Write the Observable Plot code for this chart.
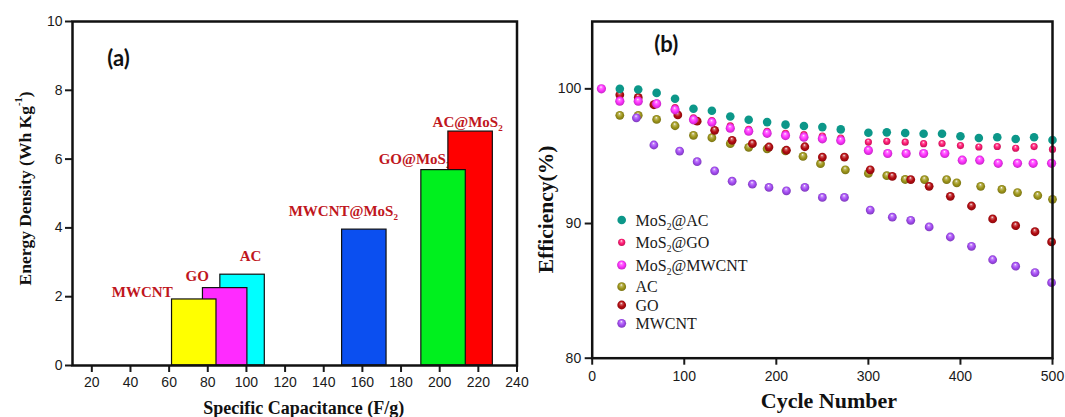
<!DOCTYPE html>
<html><head><meta charset="utf-8">
<script src="https://cdn.jsdelivr.net/npm/d3@7"></script>
<script src="https://cdn.jsdelivr.net/npm/@observablehq/plot@0.6"></script>
<style>
body{margin:0;background:#fff;}
#wrap{display:flex;width:1065px;height:417px;background:#fff;}
#wrap svg{display:block;}
</style></head><body><div id="wrap"></div>
<script>
// ---------- Panel (a) data ----------
const materials = ["MWCNT", "GO", "AC", "MWCNT@MoS₂", "GO@MoS₂", "AC@MoS₂"];
const capacitance = [73, 89, 98, 161, 202, 216];          // F/g (bar centres)
const energyDensity = [1.92, 2.25, 2.64, 3.95, 5.68, 6.80]; // Wh/kg
const capTicks = [20, 40, 60, 80, 100, 120, 140, 160, 180, 200, 220, 240];
const energyTicks = [0, 2, 4, 6, 8, 10];

// ---------- Panel (b) data ----------
const seriesNames = ["MoS₂@AC", "MoS₂@GO", "MoS₂@MWCNT", "AC", "GO", "MWCNT"];
const cycMoS2AC = [30,50,70,90,110,130,150,170,190,210,230,250,270,300,320,340,360,380,400,420,440,460,480,500];
const effMoS2AC = [100.0,99.95,99.70,99.26,98.52,98.37,97.95,97.71,97.53,97.34,97.24,97.16,96.99,96.74,96.77,96.72,96.66,96.66,96.48,96.35,96.40,96.28,96.40,96.20];
const cycMoS2GO = [30,50,70,90,110,130,150,170,190,210,230,250,270,300,320,340,360,380,400,420,440,460,480,500];
const effMoS2GO = [99.2,99.2,98.95,98.6,97.85,97.65,97.25,97.0,96.85,96.7,96.6,96.5,96.35,96.05,96.10,96.04,95.93,95.94,95.79,95.68,95.72,95.59,95.71,95.50];
const cycMoS2MWCNT = [10,30,50,70,90,110,130,150,170,190,210,230,250,270,300,321,341,360,383,402,421,441,462,479,499];
const effMoS2MWCNT = [100,99.08,99.08,98.89,98.44,97.70,97.52,97.08,96.85,96.70,96.53,96.41,96.29,96.16,95.43,95.20,95.20,95.20,95.20,94.70,94.70,94.47,94.47,94.47,94.47];
const cycAC = [30,50,70,90,110,130,150,170,190,210,229,248,275,300,320,340,361,385,396,422,445,462,484,500];
const effAC = [98.03,98.03,97.73,97.26,96.55,96.37,95.93,95.66,95.55,95.39,94.98,94.44,93.99,93.72,93.55,93.27,93.26,93.26,93.02,92.76,92.53,92.30,92.08,91.8];
const cycGO = [30,50,67,93,114,133,152,174,192,211,231,250,274,302,326,346,366,389,412,435,460,481,499];
const effGO = [99.56,99.36,98.82,98.06,97.6,96.92,96.18,95.93,95.68,95.44,95.70,94.93,94.93,93.99,93.50,93.26,92.76,92.02,91.30,90.34,89.84,89.39,88.63];
const cycMWCNT = [48,67,95,114,133,152,174,192,211,231,250,274,302,326,346,366,389,412,435,460,481,499];
const effMWCNT = [97.85,95.83,95.38,94.59,93.91,93.14,92.92,92.68,92.43,92.68,91.94,91.94,91.0,90.47,90.24,89.75,89.0,88.31,87.31,86.83,86.36,85.61];
const cycleTicks = [0, 100, 200, 300, 400, 500];
const effTicks = [80, 90, 100];

// ---------- styles ----------
const barColors = ["#ffff00", "#ff2bff", "#00ffff", "#0b4ff0", "#00f01e", "#ff0000"];
const barHalfWidth = 11.5;
const barDrawOrder = [2, 1, 0, 3, 5, 4];
const labelOffsets = [[-52, -7], [-28, -12], [8, -18], [-21, -18], [-29, -11], [-3, -9]];
const labelColor = "#c0161d";
const seriesColors = ["#0c9789", "#ff1a73", "#ff33ff", "#a0981c", "#b50d12", "#a64df5"];
const seriesRadius = [4.3, 3.6, 4.6, 4.4, 4.4, 4.4];
const seriesShaded = [false, true, true, true, true, true];
const drawOrder = [3, 4, 5, 1, 2, 0];

const serif = "Liberation Serif";
const sans = "Liberation Sans";

// ---------- Panel (a) ----------
const bars = materials.map((m, i) => ({name: m, cap: capacitance[i], e: energyDensity[i], color: barColors[i], i}));
const barsOrdered = barDrawOrder.map(i => bars[i]);

const plotA = Plot.plot({
  width: 530, height: 417,
  marginLeft: 72, marginRight: 13.5, marginTop: 21, marginBottom: 52,
  style: {fontFamily: sans, fontSize: "14px", color: "#1a1a1a", background: "#fff", overflow: "visible"},
  x: {domain: [10, 240]},
  y: {domain: [0, 10]},
  marks: [
    Plot.axisX({ticks: capTicks, tickSize: 7, tickPadding: 5, strokeWidth: 2, label: null, tickFormat: d => d}),
    Plot.axisY({ticks: energyTicks, tickSize: 7, tickPadding: 3, strokeWidth: 2, label: null, tickFormat: d => d}),
    ...bars.map((b, i) => Plot.text([b], {
      x: "cap", y: "e", text: "name", dx: labelOffsets[i][0], dy: labelOffsets[i][1],
      fill: labelColor, fontFamily: serif, fontWeight: "bold", fontSize: 15, textAnchor: "middle"
    })),
    Plot.rect(barsOrdered, {
      x1: d => d.cap - barHalfWidth, x2: d => d.cap + barHalfWidth,
      y1: 0, y2: "e", fill: "color", stroke: "#111", strokeWidth: 1.2
    }),
    Plot.frame({stroke: "#111", strokeWidth: 2.5}),
    Plot.text(["Specific Capacitance (F/g)"], {frameAnchor: "bottom", dx: 9, dy: 43, fontFamily: serif, fontWeight: "bold", fontSize: 18, fill: "#111", lineAnchor: "middle"}),
    Plot.text(["Energy Density (Wh Kg⁻¹)"], {frameAnchor: "left", dx: -47, dy: -5, rotate: -90, fontFamily: serif, fontWeight: "bold", fontSize: 17.5, fill: "#111", textAnchor: "middle", lineAnchor: "middle"}),
    Plot.text(["(a)"], {frameAnchor: "top-left", dx: 46, dy: 37, fontFamily: "Lato", fontWeight: "bold", fontSize: 22, fill: "#111", textAnchor: "middle", lineAnchor: "middle"})
  ]
});

// ---------- Panel (b) ----------
const cycles = [cycMoS2AC, cycMoS2GO, cycMoS2MWCNT, cycAC, cycGO, cycMWCNT];
const effs = [effMoS2AC, effMoS2GO, effMoS2MWCNT, effAC, effGO, effMWCNT];
const ids = ["ball0", "ball1", "ball2", "ball3", "ball4", "ball5"];
const fills = seriesColors.map((c, i) => seriesShaded[i] ? `url(#${ids[i]})` : c);

const plotB = Plot.plot({
  width: 535, height: 417,
  marginLeft: 61.7, marginRight: 13, marginTop: 21, marginBottom: 59.3,
  style: {fontFamily: sans, fontSize: "14px", color: "#1a1a1a", background: "#fff", overflow: "visible"},
  x: {domain: [0, 500]},
  y: {domain: [80, 105]},
  marks: [
    Plot.axisX({ticks: cycleTicks, tickSize: 7, tickPadding: 6, strokeWidth: 2, label: null, tickFormat: d => d}),
    Plot.axisY({ticks: effTicks, tickSize: 7, tickPadding: 4, strokeWidth: 2, label: null, tickFormat: d => d}),
    ...drawOrder.map(s => Plot.dot(cycles[s].map((c, k) => ({c, e: effs[s][k]})), {
      x: "c", y: "e", r: seriesRadius[s], fill: fills[s], stroke: "none"
    })),
    Plot.frame({stroke: "#111", strokeWidth: 2.5}),
    Plot.text(["Cycle Number"], {frameAnchor: "bottom", dx: 6.6, dy: 43, fontFamily: serif, fontWeight: "bold", fontSize: 22, fill: "#111", lineAnchor: "middle"}),
    Plot.text(["Efficiency(%)"], {frameAnchor: "left", dx: -46, dy: 19.6, rotate: -90, fontFamily: serif, fontWeight: "bold", fontSize: 21.5, fill: "#111", textAnchor: "middle", lineAnchor: "middle"}),
    Plot.text(["(b)"], {frameAnchor: "top-left", dx: 74, dy: 23, fontFamily: "Lato", fontWeight: "bold", fontSize: 22, fill: "#111", textAnchor: "middle", lineAnchor: "middle"})
  ]
});

// gradients for shaded balls
const svgB = d3.select(plotB);
const defs = svgB.insert("defs", ":first-child");
seriesColors.forEach((c, i) => {
  const base = d3.color(c);
  const g = defs.append("radialGradient").attr("id", ids[i])
    .attr("cx", "50%").attr("cy", "50%").attr("r", "55%").attr("fx", "45%").attr("fy", "28%");
  g.append("stop").attr("offset", "0%").attr("stop-color", "#ffffff");
  g.append("stop").attr("offset", "22%").attr("stop-color", d3.interpolateRgb(c, "#fff")(0.35));
  g.append("stop").attr("offset", "55%").attr("stop-color", c);
  g.append("stop").attr("offset", "100%").attr("stop-color", base.darker(0.9).formatHex());
});

// legend
const legendX = 91.7, legendTextX = 105.5;
const legendRows = [220, 242.3, 265, 286.7, 305, 323.3];
const lg = svgB.append("g").attr("font-family", serif).attr("font-size", 16)
  .attr("fill", "#1a1a1a").attr("text-anchor", "start");
seriesNames.forEach((name, i) => {
  lg.append("circle").attr("cx", legendX).attr("cy", legendRows[i]).attr("r", seriesRadius[i]).attr("fill", fills[i]);
  lg.append("text").attr("x", legendTextX).attr("y", legendRows[i]).attr("dy", "0.35em")
    .attr("text-anchor", "start").text(name);
});

// sub/superscripts
function scriptify(svg) {
  svg.querySelectorAll("text").forEach(t => {
    const targets = t.querySelector("tspan") ? [...t.querySelectorAll("tspan")] : [t];
    targets.forEach(n => {
      const s = n.textContent;
      if (!/[₂⁻¹]/.test(s)) return;
      const parts = s.split(/(₂|⁻¹)/).filter(p => p !== "");
      n.textContent = "";
      parts.forEach(p => {
        const ts = document.createElementNS("http://www.w3.org/2000/svg", "tspan");
        if (p === "₂") {
          ts.textContent = "2"; ts.setAttribute("font-size", "0.6em"); ts.setAttribute("baseline-shift", "-0.45em");
        } else if (p === "⁻¹") {
          ts.textContent = "-1"; ts.setAttribute("font-size", "0.6em"); ts.setAttribute("baseline-shift", "0.9em");
        } else ts.textContent = p;
        n.appendChild(ts);
      });
    });
  });
}
scriptify(plotA); scriptify(plotB);

const wrap = document.getElementById("wrap");
wrap.appendChild(plotA);
wrap.appendChild(plotB);
</script></body></html>
